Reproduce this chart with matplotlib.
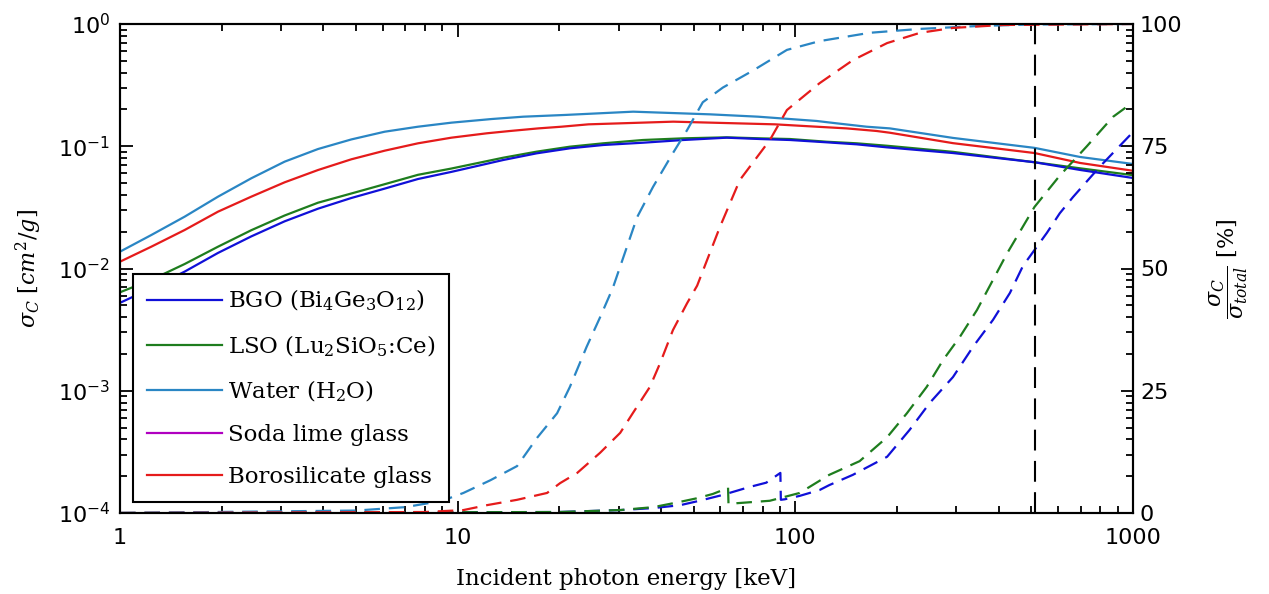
"""Compton cross section and Compton fraction vs incident photon energy."""

import matplotlib

matplotlib.use("Agg")
import matplotlib.pyplot as plt
from matplotlib.lines import Line2D
import numpy as np

plt.rcParams["font.family"] = ["DejaVu Serif"]
plt.rcParams["mathtext.fontset"] = "dejavuserif"

# Compton cross section sigma_C [cm^2/g] (left axis, solid)
energy_water = [1.0, 1.238, 1.554, 1.951, 2.448, 3.073, 3.858, 4.842, 6.079, 7.63, 9.576, 12.61, 15.64,
                20.78, 33.1, 55.9, 77.6, 96.4, 115.6, 132.5, 162.5, 190.5, 293, 511, 697, 1000]
sigma_water = [0.01373, 0.01879, 0.02654, 0.03869, 0.0547, 0.07482, 0.0949, 0.1137, 0.1315, 0.1445, 0.1559,
               0.167, 0.1745, 0.1803, 0.1918, 0.1824, 0.1745, 0.167, 0.161, 0.154, 0.1445, 0.140, 0.117,
               0.097, 0.0817, 0.0716]

energy_boro = [1.0, 1.238, 1.554, 1.951, 2.448, 3.073, 3.858, 4.842, 6.079, 7.63, 9.576, 12.19, 14.29,
               17.34, 20.3, 24.4, 43.5, 87.0, 115.6, 141.9, 174, 190.5, 293, 511, 697, 1000]
sigma_boro = [0.01137, 0.01508, 0.02065, 0.02917, 0.03869, 0.0507, 0.0639, 0.0782, 0.0920, 0.1057, 0.1175,
              0.1276, 0.1333, 0.140, 0.1445, 0.1511, 0.1589, 0.1511, 0.1445, 0.140, 0.1333, 0.129, 0.106,
              0.088, 0.073, 0.063]

energy_crystal = [1.0, 1.238, 1.554, 1.951, 2.448, 3.073, 3.858, 4.842, 6.079, 7.63, 9.576, 13.65, 17.13,
                  21.5, 27.0, 35.4, 46.6, 62.6, 78.5, 96.4, 123.8, 151.9, 186.4, 293, 511, 697, 1000]
sigma_lso = [0.00639, 0.00808, 0.01088, 0.01508, 0.02057, 0.02714, 0.03453, 0.04107, 0.04893, 0.0584, 0.0657,
             0.0806, 0.0903, 0.0992, 0.1057, 0.1125, 0.1161, 0.1183, 0.1161, 0.1146, 0.1089, 0.1057, 0.1010,
             0.090, 0.074, 0.066, 0.058]
sigma_bgo = [0.00524, 0.00689, 0.00943, 0.01341, 0.01831, 0.02432, 0.03085, 0.03773, 0.04503, 0.05397, 0.06169,
             0.0772, 0.0875, 0.0962, 0.1024, 0.1069, 0.1125, 0.1175, 0.1146, 0.1125, 0.1077, 0.1037, 0.0980,
             0.088, 0.074, 0.064, 0.055]

# Compton fraction sigma_C / sigma_total [%] (right axis, dashed)
energy_water_pct = [1, 5, 7, 9, 10.4, 12.5, 15.0, 17.2, 19.7, 21.5, 24.1, 26.4, 28.8, 34, 37.9, 43.4, 47.8,
                    53.2, 61, 75, 94.4, 118, 166, 234, 350, 500, 1000]
water_pct = [0, 0.5, 1.2, 2.5, 4.1, 6.7, 9.6, 15.4, 20.4, 25.8, 34, 40, 46, 60.5, 66.7, 73.6, 78.3,
             84.0, 87.0, 90.5, 94.7, 96.5, 98.2, 99.0, 99.6, 99.9, 100]

energy_boro_pct = [1, 8, 10.4, 12.2, 15.0, 18.4, 20.1, 22.6, 26.4, 30.3, 33.0, 37.1, 39.8, 43.4, 47.8, 51.2,
                   59.8, 68.5, 84.1, 94.4, 118, 148, 187, 234, 293, 412, 1000]
boro_pct = [0, 0.2, 0.6, 1.6, 2.7, 4.1, 6.1, 8.2, 12.3, 16.4, 20.4, 25.8, 30.7, 37.4, 42.9, 46.5,
            58.5, 68.1, 76.3, 82.4, 87.9, 92.6, 96.1, 98.2, 99.2, 99.8, 100]

energy_lso_pct = [1, 20, 30.3, 38, 45, 51, 57, 61, 63.2, 63.4, 67, 84, 93, 103, 126, 155, 187, 214, 245,
                  274, 307, 345, 377, 423, 511, 607, 730, 872, 1000]
lso_pct = [0, 0.2, 0.6, 1.2, 2.2, 3.0, 3.9, 4.7, 5.2, 1.8, 2.0, 2.5, 3.3, 4.1, 7.8, 10.6, 15.5, 20.4, 25.8,
           31.3, 36, 41.5, 46.5, 53, 62.6, 69, 75, 81, 84]

energy_bgo_pct = [1, 20, 30.3, 37.9, 45.6, 52, 61, 73, 82, 90.3, 90.6, 93, 103, 118, 126, 148, 187, 218, 250,
                  293, 336, 385, 432, 472, 511, 556, 607, 664, 797, 1000]
bgo_pct = [0, 0.2, 0.6, 1.0, 1.6, 2.5, 3.7, 5.3, 6.2, 8.2, 2.7, 2.8, 3.5, 4.7, 5.7, 7.8, 11.5, 17, 22.5,
           27.8, 34, 39.5, 45, 50.5, 53.8, 57.3, 61.3, 64.6, 70.8, 77.9]

annihilation_kev = 511

labels = [
    r"BGO (Bi$_4$Ge$_3$O$_{12}$)",
    r"LSO (Lu$_2$SiO$_5$:Ce)",
    r"Water (H$_2$O)",
    "Soda lime glass",
    "Borosilicate glass",
]
colors = ["#1010d8", "#1e7d1e", "#2a86c4", "#b000c0", "#e51b1b"]

fig = plt.figure(figsize=(12.69, 5.94), dpi=100)
ax = fig.add_axes([120 / 1269, 1 - 513 / 594, 1013 / 1269, 489 / 594])
ax2 = ax.twinx()

lw = 1.6
ax.plot(energy_crystal, sigma_lso, color=colors[1], lw=lw)
ax.plot(energy_crystal, sigma_bgo, color=colors[0], lw=lw)
ax.plot(energy_water, sigma_water, color=colors[2], lw=lw)
ax.plot(energy_boro, sigma_boro, color=colors[4], lw=lw)

dash = (0, (7, 4))
ax2.plot(energy_bgo_pct, bgo_pct, color=colors[0], lw=lw, ls=dash)
ax2.plot(energy_lso_pct, lso_pct, color=colors[1], lw=lw, ls=dash)
ax2.plot(energy_water_pct, water_pct, color=colors[2], lw=lw, ls=dash)
ax2.plot(energy_boro_pct, boro_pct, color=colors[4], lw=lw, ls=dash)
ax2.axvline(annihilation_kev, color="black", lw=1.5, ls=(0, (10, 5)))

ax.set_xscale("log")
ax.set_yscale("log")
ax.set_xlim(1, 1000)
ax.set_ylim(1e-4, 1)
ax2.set_ylim(0, 100)

ax.set_xticks([1, 10, 100, 1000])
ax.set_xticklabels(["1", "10", "100", "1000"])
ax.set_yticks([1e-4, 1e-3, 1e-2, 1e-1, 1])
ax.set_yticklabels([r"$10^{-4}$", r"$10^{-3}$", r"$10^{-2}$", r"$10^{-1}$", r"$10^{0}$"])
for lab in ax.get_yticklabels():
    lab.set_math_fontfamily("dejavusans")
for lab in ax.get_xticklabels() + ax.get_yticklabels():
    lab.set_fontfamily("DejaVu Sans")

ax.tick_params(which="both", direction="in", top=True, right=False, labelsize=16, width=1.3)
ax.tick_params(which="major", length=9, pad=7)
ax.tick_params(which="minor", length=5)
ax.tick_params(axis="x", pad=11)

# right axis mirrors the left log ticks inside each 25 % band
pct_major = [0, 25, 50, 75, 100]
pct_minor = [25 * (k + np.log10(m)) for k in range(4) for m in range(2, 10)]
ax2.set_yticks(pct_major)
ax2.set_yticks(pct_minor, minor=True)
ax2.set_yticklabels([str(v) for v in pct_major], fontfamily="DejaVu Sans")
ax2.tick_params(which="both", direction="in", labelsize=16, width=1.3, pad=5)
ax2.tick_params(which="major", length=9)
ax2.tick_params(which="minor", length=5)

for a in (ax, ax2):
    for s in a.spines.values():
        s.set_linewidth(1.5)

ax.set_xlabel("Incident photon energy [keV]", fontsize=16.5, labelpad=14)
ax.set_ylabel(r"$\sigma_C\ [cm^2/g]$", fontsize=16, labelpad=10)
ax2.set_ylabel(r"$\dfrac{\sigma_C}{\sigma_{total}}$ [%]", fontsize=16, labelpad=18, rotation=90)

handles = [Line2D([], [], color=c, lw=lw) for c in colors]
leg = ax2.legend(
    handles,
    labels,
    loc="lower left",
    bbox_to_anchor=(0.0128, 0.0225),
    borderaxespad=0,
    fontsize=16.5,
    handlelength=3.3,
    handletextpad=0.25,
    labelspacing=0.88,
    borderpad=0.6,
    fancybox=False,
    framealpha=1,
    edgecolor="black",
)
leg.get_frame().set_linewidth(1.5)

fig.savefig("out.png", dpi=100)
